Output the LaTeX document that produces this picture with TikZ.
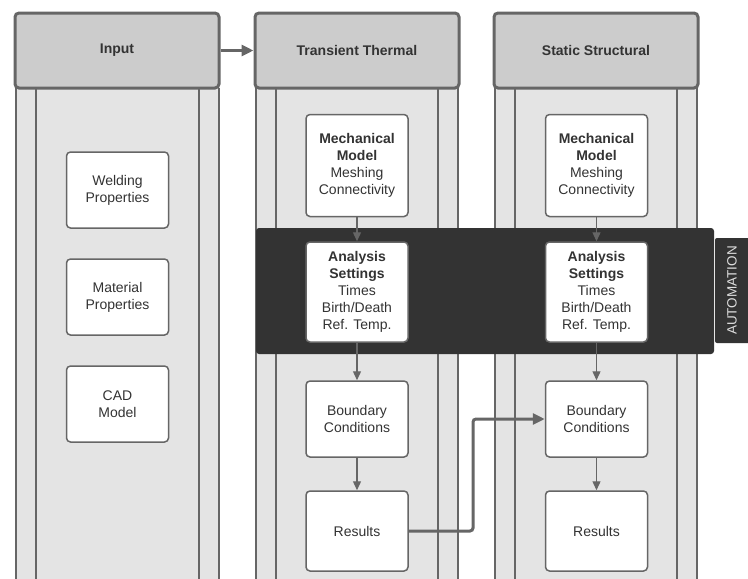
\documentclass[tikz,border=0pt]{standalone}
\usepackage{fontspec}
\setmainfont{Liberation Sans}
\usetikzlibrary{arrows.meta}
\definecolor{edgec}{HTML}{666666}
\definecolor{txtc}{HTML}{333333}
\definecolor{bodyc}{HTML}{E4E4E4}
\definecolor{headc}{HTML}{CCCCCC}
\definecolor{bandc}{HTML}{333333}
\definecolor{tabtxt}{HTML}{DDDDDD}
\tikzset{
  colbody/.style={fill=bodyc, draw=none},
  colline/.style={draw=edgec, line width=1.6pt},
  header/.style={draw=edgec, fill=headc, line width=3pt, rounded corners=4pt, minimum width=204pt, minimum height=75pt, inner sep=0pt, text=txtc, font=\fontsize{14}{17}\selectfont\bfseries},
  stepbox/.style={draw=edgec, fill=white, line width=1.5pt, rounded corners=4pt, minimum width=102pt, inner sep=0pt, align=center, text=txtc, font=\fontsize{14}{17}\selectfont},
  flow/.style={draw=edgec, line width=1.3pt, -{Triangle[length=9pt,width=8pt]}},
  bigflow/.style={draw=edgec, line width=3pt, -{Triangle[length=12pt,width=11pt]}}
}
\begin{document}
\begin{tikzpicture}[x=1pt,y=-1pt]
\useasboundingbox (0,0) rectangle (748,579);
% column bodies
\foreach \l/\r in {16/219, 256/458, 495/697}{
  \fill[bodyc] (\l,88) rectangle (\r,579);
  \draw[colline] (\l,88) -- (\l,579);
  \draw[colline] (\l+20,88) -- (\l+20,579);
  \draw[colline] (\r-20,88) -- (\r-20,579);
  \draw[colline] (\r,88) -- (\r,579);
}
% headers
\node[header] (hin) at (117,50.5) {Input};
\node[header] (htt) at (357,50.5) {Transient Thermal};
\node[header] (hss) at (596,50.5) {Static Structural};
% automation band
\fill[bandc, rounded corners=3pt] (256,228) rectangle (714,354);
\fill[bandc, rounded corners=2pt] (715,238) rectangle (752,343);
\node[rotate=90, text=tabtxt, font=\fontsize{13.5}{16}\selectfont] (auto) at (732,290.5) {AUTOMATION};
% input boxes
\node[stepbox, minimum height=76pt] (weld) at (117.5,190) {Welding\\Properties};
\node[stepbox, minimum height=76pt] (mat) at (117.5,297) {Material\\Properties};
\node[stepbox, minimum height=76pt] (cad) at (117.5,404) {CAD\\Model};
% transient thermal boxes
\node[stepbox, minimum height=102pt] (tmech) at (357,165.5) {\textbf{Mechanical}\\\textbf{Model}\\Meshing\\Connectivity};
\node[stepbox, minimum height=100pt] (tana) at (357,292) {\textbf{Analysis}\\\textbf{Settings}\\Times\\Birth/Death\\Ref. Temp.};
\node[stepbox, minimum height=76pt] (tbc) at (357,419) {Boundary\\Conditions};
\node[stepbox, minimum height=80pt] (tres) at (357,531) {Results};
% static structural boxes
\node[stepbox, minimum height=102pt] (smech) at (596.5,165.5) {\textbf{Mechanical}\\\textbf{Model}\\Meshing\\Connectivity};
\node[stepbox, minimum height=100pt] (sana) at (596.5,292) {\textbf{Analysis}\\\textbf{Settings}\\Times\\Birth/Death\\Ref. Temp.};
\node[stepbox, minimum height=76pt] (sbc) at (596.5,419) {Boundary\\Conditions};
\node[stepbox, minimum height=80pt] (sres) at (596.5,531) {Results};
% connectors
\draw[bigflow] (hin.east) -- (htt.west);
\draw[flow] (tmech) -- (tana);
\draw[flow] (tana) -- (tbc);
\draw[flow] (tbc) -- (tres);
\draw[flow] (smech) -- (sana);
\draw[flow] (sana) -- (sbc);
\draw[flow] (sbc) -- (sres);
\draw[bigflow, rounded corners=3pt] (tres.east) -- (473,531) -- (473,419) -- (sbc.west);
\end{tikzpicture}
\end{document}
